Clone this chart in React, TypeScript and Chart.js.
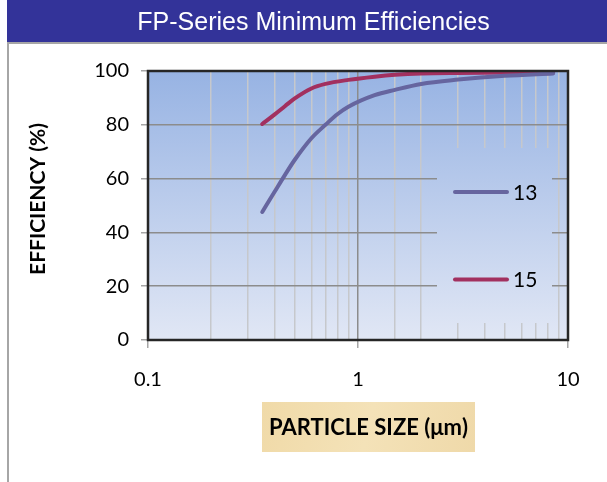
import React, { useEffect, useRef } from "react";
import { Chart, registerables } from "chart.js";

Chart.register(...registerables);

const chartTitle = "FP-Series Minimum Efficiencies";
const xAxisTitle = "PARTICLE SIZE (\u03bcm)";
const yAxisTitle = "EFFICIENCY (%)";

const seriesNames = ["13", "15"];
const sizes13 = [0.35, 0.4, 0.45, 0.5, 0.6, 0.7, 0.8, 0.9, 1.2, 1.5, 2, 3, 5, 8.5];
const eff13 = [47.6, 55, 61.5, 67, 75, 80, 84, 86.7, 91, 93, 95.2, 96.8, 98.2, 99.1];
const sizes15 = [0.35, 0.4, 0.45, 0.5, 0.6, 0.7, 0.9, 1.2, 1.5, 2, 3, 5, 8.5];
const eff15 = [80.3, 83.8, 87, 89.8, 93.5, 95.2, 96.7, 97.9, 98.6, 99.1, 99.3, 99.4, 99.4];
const seriesColors = ["#66659F", "#A2305F"];

const xMin = 0.1;
const xMax = 10;
const yMin = 0;
const yMax = 100;
const yStep = 20;

const FONT = "Lato, 'Open Sans', sans-serif";

function isPow10(v: number) {
  const l = Math.log10(v);
  return Math.abs(l - Math.round(l)) < 1e-9;
}

function plotGradient(ctx: CanvasRenderingContext2D, area: any) {
  const g = ctx.createLinearGradient(0, area.top, 0, area.bottom);
  g.addColorStop(0, "#97B3E3");
  g.addColorStop(1, "#E1E7F5");
  return g;
}

const decorPlugin = {
  id: "decor",
  beforeDraw(chart: any) {
    const { ctx, chartArea } = chart;
    ctx.save();
    // title bar
    ctx.fillStyle = "#333399";
    ctx.fillRect(7, 0, 600, 42);
    ctx.fillStyle = "#ffffff";
    ctx.font = "25px 'Liberation Sans', Arial, sans-serif";
    ctx.textAlign = "center";
    ctx.textBaseline = "alphabetic";
    ctx.fillText(chartTitle, 313.5, 30);
    // frame lines
    ctx.fillStyle = "#a6a6a6";
    ctx.fillRect(7, 42, 600, 2);
    ctx.fillRect(7, 42, 2, 440);
    // plot background
    ctx.fillStyle = plotGradient(ctx, chartArea);
    ctx.fillRect(chartArea.left, chartArea.top, chartArea.right - chartArea.left, chartArea.bottom - chartArea.top);
    // x title box
    const bg = ctx.createLinearGradient(262, 402, 475, 452);
    bg.addColorStop(0, "#F0DAA8");
    bg.addColorStop(0.5, "#F4E2B8");
    bg.addColorStop(1, "#EFD9A9");
    ctx.fillStyle = bg;
    ctx.fillRect(262, 402, 213, 50);
    ctx.fillStyle = "#000000";
    ctx.font = "bold 22px " + FONT;
    ctx.textAlign = "center";
    ctx.textBaseline = "middle";
    ctx.fillText(xAxisTitle, 368.5, 428);
    // y title
    ctx.translate(38, 199);
    ctx.rotate(-Math.PI / 2);
    ctx.font = "bold 21px " + FONT;
    ctx.fillText(yAxisTitle, 0, 0);
    ctx.restore();
  },
  beforeDatasetsDraw(chart: any) {
    const { ctx, chartArea } = chart;
    ctx.save();
    // legend box hides the grid behind it
    ctx.fillStyle = plotGradient(ctx, chartArea);
    ctx.fillRect(437, 148, 115, 175);
    ctx.restore();
  },
  afterDatasetsDraw(chart: any) {
    const { ctx, chartArea } = chart;
    ctx.save();
    // border
    ctx.strokeStyle = "#262626";
    ctx.lineWidth = 2.5;
    ctx.strokeRect(chartArea.left, chartArea.top, chartArea.right - chartArea.left, chartArea.bottom - chartArea.top);
    // legend
    const ys = [192, 279.5];
    chart.data.datasets.forEach((ds: any, i: number) => {
      ctx.strokeStyle = ds.borderColor;
      ctx.lineWidth = 4;
      ctx.lineCap = "round";
      ctx.beginPath();
      ctx.moveTo(455, ys[i]);
      ctx.lineTo(507, ys[i]);
      ctx.stroke();
      ctx.fillStyle = "#000000";
      ctx.font = "21px " + FONT;
      ctx.textAlign = "left";
      ctx.textBaseline = "middle";
      ctx.fillText(ds.label, 513, ys[i] + 1);
    });
    ctx.restore();
  },
};

export default function App() {
  const ref = useRef<HTMLCanvasElement | null>(null);

  useEffect(() => {
    document.body.style.margin = "0";
    const canvas = ref.current;
    if (!canvas) return;
    const chart = new Chart(canvas, {
      type: "line",
      data: {
        datasets: [
          {
            label: seriesNames[0],
            data: sizes13.map((x, i) => ({ x, y: eff13[i] })),
            borderColor: seriesColors[0],
            backgroundColor: seriesColors[0],
            borderWidth: 4,
            pointRadius: 0,
            cubicInterpolationMode: "monotone",
            borderCapStyle: "round",
            fill: false,
          },
          {
            label: seriesNames[1],
            data: sizes15.map((x, i) => ({ x, y: eff15[i] })),
            borderColor: seriesColors[1],
            backgroundColor: seriesColors[1],
            borderWidth: 4,
            pointRadius: 0,
            cubicInterpolationMode: "monotone",
            borderCapStyle: "round",
            fill: false,
          },
        ],
      },
      options: {
        responsive: false,
        animation: false,
        devicePixelRatio: window.devicePixelRatio || 1,
        layout: { padding: { top: 71, right: 39, left: 0, bottom: 0 } },
        plugins: {
          legend: { display: false },
          title: { display: false },
          tooltip: { enabled: false },
        },
        scales: {
          x: {
            type: "logarithmic",
            min: xMin,
            max: xMax,
            afterFit(scale: any) {
              scale.height = 142;
            },
            border: { display: false },
            grid: {
              drawOnChartArea: true,
              drawTicks: true,
              tickLength: 8,
              lineWidth: 1.5,
              color: (c: any) => (c.tick && isPow10(c.tick.value) ? "#8C8C8C" : "#C6C8CC"),
              tickColor: (c: any) => (c.tick && isPow10(c.tick.value) ? "#A6A6A6" : "rgba(0,0,0,0)"),
            },
            ticks: {
              autoSkip: false,
              maxRotation: 0,
              padding: 20,
              color: "#000000",
              font: { family: FONT, size: 20 },
              callback: (v: any) => (isPow10(Number(v)) ? String(Number(v)) : ""),
            },
          },
          y: {
            type: "linear",
            min: yMin,
            max: yMax,
            afterFit(scale: any) {
              scale.width = 148;
            },
            border: { display: false },
            grid: {
              lineWidth: 1.5,
              color: "#8C8C8C",
              tickLength: 7,
              tickColor: "#A6A6A6",
            },
            ticks: {
              stepSize: yStep,
              padding: 12,
              color: "#000000",
              font: { family: FONT, size: 20 },
            },
          },
        },
      },
      plugins: [decorPlugin],
    } as any);
    return () => chart.destroy();
  }, []);

  return (
    <div style={{ width: 607, height: 482, position: "relative" }}>
      <canvas ref={ref} width={607} height={482} style={{ width: 607, height: 482, display: "block" }} />
    </div>
  );
}
